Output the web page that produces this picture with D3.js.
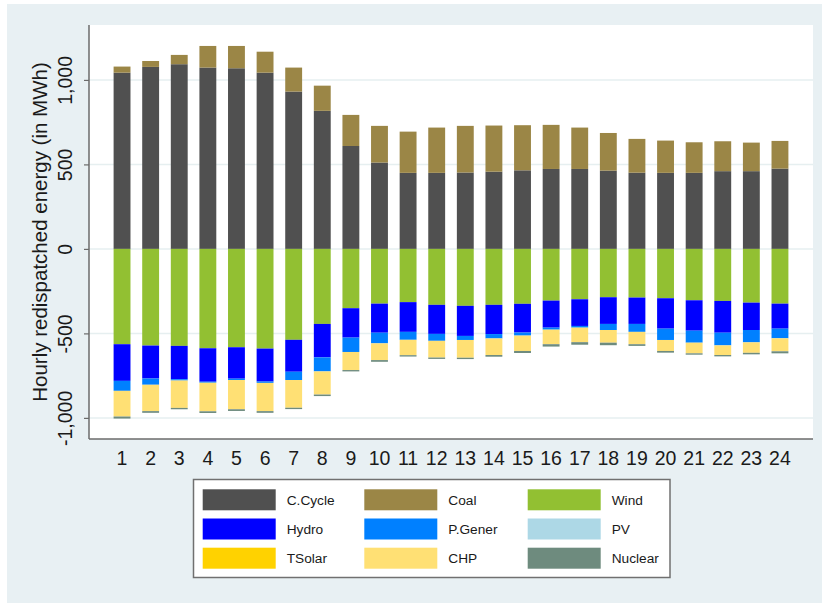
<!DOCTYPE html>
<html>
<head>
<meta charset="utf-8">
<script src="https://cdn.jsdelivr.net/npm/d3@7"></script>
<style>
  body { margin: 0; background: #ffffff; }
  svg { display: block; }
  text { font-family: "Liberation Sans", Arial, Helvetica, sans-serif; fill: #1a1a1a; }
</style>
</head>
<body>
<svg id="chart" width="822" height="603"></svg>
<script>
// Hours of the day
const hours = ["1","2","3","4","5","6","7","8","9","10","11","12",
               "13","14","15","16","17","18","19","20","21","22","23","24"];

// Upward redispatch (MWh)
const cCycle = [1043,1077,1093,1073,1069,1043,931,817,609,511,450,450,
                452,457,465,473,473,463,451,450,450,460,460,475];
const coal   = [36,35,55,128,132,124,142,149,184,217,244,268,
                276,273,267,261,245,223,200,191,181,177,169,164];

// Downward redispatch (MWh)
const wind    = [-564,-572,-574,-588,-582,-590,-538,-444,-351,-324,-315,-331,
                 -337,-331,-325,-306,-298,-286,-288,-292,-304,-308,-318,-324];
const hydro   = [-217,-195,-197,-198,-186,-195,-189,-198,-174,-172,-176,-172,
                 -178,-173,-170,-160,-158,-158,-156,-180,-180,-188,-162,-148];
const pGener  = [-59,-37,-8,-6,-8,-8,-49,-83,-85,-63,-47,-41,
                 -24,-26,-18,-12,-10,-36,-47,-67,-71,-75,-73,-57];
const pv      = [0,0,0,0,0,0,0,0,0,0,0,0,
                 0,0,0,0,0,0,0,0,0,0,0,0];
const tSolar  = [0,0,0,0,0,0,0,0,0,0,0,0,
                 0,0,0,0,0,0,0,0,0,0,0,0];
const chp     = [-152,-156,-162,-169,-173,-167,-164,-137,-107,-99,-91,-99,
                 -105,-98,-91,-86,-86,-75,-73,-65,-63,-57,-62,-77];
const nuclear = [-12,-10,-8,-10,-10,-10,-8,-9,-8,-10,-8,-8,
                 -8,-10,-12,-14,-15,-15,-10,-10,-8,-8,-9,-12];

const seriesNames  = ["C.Cycle","Coal","Wind","Hydro","P.Gener","PV","TSolar","CHP","Nuclear"];
const seriesValues = [cCycle, coal, wind, hydro, pGener, pv, tSolar, chp, nuclear];
const seriesColors = ["#505050","#9b8646","#92c032","#0000ff","#0080ff","#add8e6","#ffd200","#ffe074","#6e8b7e"];

const yTicks = [-1000, -500, 0, 500, 1000];
const legendOrder = ["C.Cycle","Coal","Wind","Hydro","P.Gener","PV","TSolar","CHP","Nuclear"];

// ---- layout ----
const svg = d3.select("#chart");
const W = 822, H = 603;
const plot = { left: 89, right: 813, top: 25, bottom: 439 };

// outer panel
svg.append("rect").attr("x", 7).attr("y", 4).attr("width", W - 7).attr("height", H - 4)
   .attr("fill", "#e8f0f3");
// plot region
svg.append("rect").attr("x", plot.left).attr("y", plot.top)
   .attr("width", plot.right - plot.left).attr("height", plot.bottom - plot.top)
   .attr("fill", "#ffffff");

const x = d3.scaleBand().domain(hours).range([plot.left, plot.right])
  .paddingInner(0.41).paddingOuter(0.86);
const y = d3.scaleLinear().domain([-1125, 1325]).range([plot.bottom, plot.top]);

// gridlines
svg.append("g").selectAll("line").data(yTicks).join("line")
  .attr("x1", plot.left).attr("x2", plot.right)
  .attr("y1", d => y(d)).attr("y2", d => y(d))
  .attr("stroke", "#e6eff0").attr("stroke-width", 1.5);

// stacked data table
const table = hours.map((h, i) => {
  const row = { hour: h };
  seriesNames.forEach((s, k) => { row[s] = seriesValues[k][i]; });
  return row;
});
const stack = d3.stack().keys(seriesNames).offset(d3.stackOffsetDiverging);
const layers = stack(table);
const color = d3.scaleOrdinal().domain(seriesNames).range(seriesColors);

svg.append("g").selectAll("g").data(layers).join("g")
  .attr("fill", d => color(d.key))
  .selectAll("rect").data(d => d).join("rect")
  .attr("x", d => x(d.data.hour))
  .attr("width", x.bandwidth())
  .attr("y", d => y(Math.max(d[0], d[1])))
  .attr("height", d => Math.abs(y(d[0]) - y(d[1])));

// axes
const fmt = d3.formatLocale({ decimal: ".", thousands: ",", grouping: [3], currency: ["", ""], minus: "-" }).format(",");
const axisColor = "#6b6b6b";

const yAxis = svg.append("g").attr("transform", `translate(${plot.left},0)`)
  .call(d3.axisLeft(y).tickValues(yTicks).tickFormat(fmt).tickSize(5).tickSizeOuter(0));
yAxis.select(".domain").attr("stroke", axisColor).attr("stroke-width", 1.5)
  .attr("d", `M0,${plot.top}V${plot.bottom}`);
yAxis.selectAll(".tick line").attr("stroke", axisColor).attr("stroke-width", 1.2);
yAxis.selectAll(".tick text")
  .attr("x", null).attr("dy", null)
  .attr("text-anchor", "middle")
  .attr("transform", "translate(-17,0) rotate(-90)")
  .style("font-size", "19.5px").attr("fill", "#1a1a1a");

const xAxis = svg.append("g").attr("transform", `translate(0,${plot.bottom})`)
  .call(d3.axisBottom(x).tickSize(0).tickSizeOuter(0));
xAxis.select(".domain").attr("stroke", axisColor).attr("stroke-width", 1.5)
  .attr("d", `M${plot.left},0H${plot.right}`);
xAxis.selectAll(".tick text").attr("y", 26).attr("dy", null)
  .style("font-size", "19.5px").attr("fill", "#1a1a1a");

// y-axis title
svg.append("text")
  .attr("transform", `translate(47,${(plot.top + plot.bottom) / 2}) rotate(-90)`)
  .attr("text-anchor", "middle")
  .style("font-size", "20.5px")
  .text("Hourly redispatched energy (in MWh)");

// legend
const legend = svg.append("g");
legend.append("rect").attr("x", 193.5).attr("y", 479.5).attr("width", 476.5).attr("height", 98)
  .attr("fill", "#ffffff").attr("stroke", "#707070").attr("stroke-width", 1.5);
const colX = [202.7, 364.3, 527.7];
const rowY = [489.3, 518.5, 547.7];
const items = legend.selectAll("g.item").data(legendOrder).join("g").attr("class", "item")
  .attr("transform", (d, i) => `translate(${colX[i % 3]},${rowY[Math.floor(i / 3)]})`);
items.append("rect").attr("width", 73).attr("height", 21).attr("fill", d => color(d));
items.append("text").attr("x", 84).attr("y", 15.5)
  .style("font-size", "13.7px").attr("fill", "#222")
  .text(d => d);
</script>
</body>
</html>
